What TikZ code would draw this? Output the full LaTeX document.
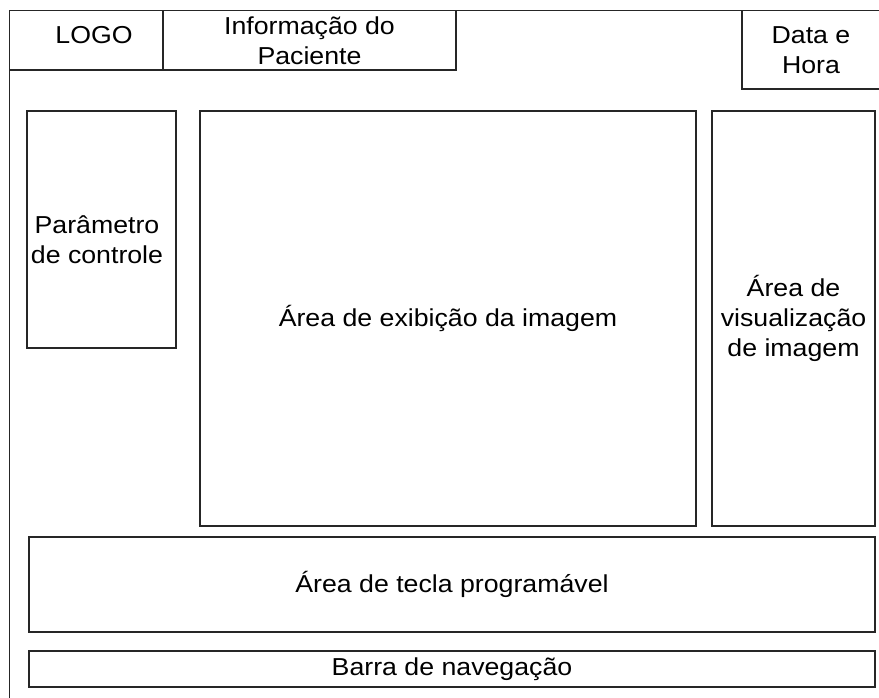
\documentclass[tikz,border=0pt]{standalone}
\usepackage{fontspec}
\setmainfont{Liberation Sans}[FakeStretch=1.09]

\begin{document}
\begin{tikzpicture}[x=1pt,y=-1pt,area/.style={draw=black!85,line width=1.5pt,inner sep=0pt,align=center,font=\fontsize{24.5}{30}\selectfont}]
      \useasboundingbox (0,0) rectangle (879,697);
      \clip (0,0) rectangle (879,697);
      \draw [black!85,line width=1.5pt] (9.5,700) -- (9.5,10.5) -- (885,10.5);
      \node (logo) at (86.25,40.25) [area,minimum width=153.5,minimum height=59.5] {};
      \node [font=\fontsize{24.5}{30}\selectfont] (logotxt) at (94,35) {LOGO};
      \node (info) at (309.5,40.25) [area,minimum width=293,minimum height=59.5] {Informação do\\Paciente};
      \node (data) at (811,49.75) [area,minimum width=138,minimum height=78.5] {Data e\\Hora};
      \node (param) at (101.5,229.5) [area,minimum width=149,minimum height=237] {};
      \node [area,draw=none] (paramtxt) at (97,240) {Parâmetro\\de controle};
      \node (imagem) at (448,318.5) [area,minimum width=496,minimum height=415] {Área de exibição da imagem};
      \node (visual) at (793.5,318.5) [area,minimum width=163,minimum height=415] {Área de\\visualização\\de imagem};
      \node (tecla) at (452,584.5) [area,minimum width=846,minimum height=95] {Área de tecla programável};
      \node (barra) at (452,669) [area,minimum width=846,minimum height=36] {Barra de navegação};
    \end{tikzpicture}
\end{document}
